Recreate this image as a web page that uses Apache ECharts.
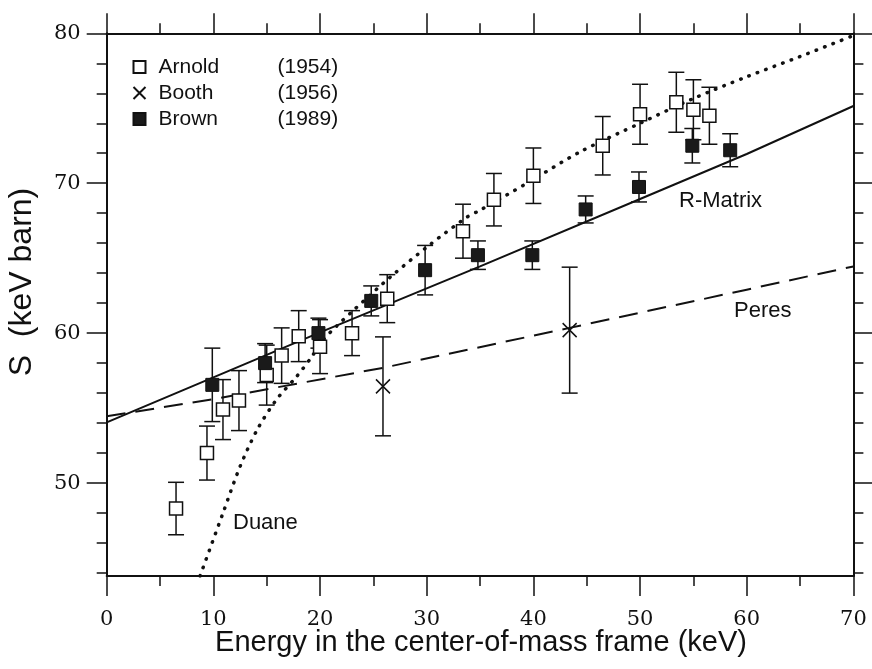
<!DOCTYPE html>
<html>
<head>
<meta charset="utf-8">
<script src="https://cdn.jsdelivr.net/npm/echarts@6/dist/echarts.min.js"></script>
<style>html,body{margin:0;padding:0;background:#fff;}#c{width:872px;height:669px;}</style>
</head>
<body>
<div id="c"></div>
<script>
// ---- data ----
const xTicks = [0, 10, 20, 30, 40, 50, 60, 70];
const yMajorTicks = [50, 60, 70, 80];
const yMinorTicks = [44, 46, 48, 50, 52, 54, 56, 58, 60, 62, 64, 66, 68, 70, 72, 74, 76, 78, 80];

const arnoldX   = [6.5, 9.4, 10.9, 12.4, 15.0, 16.4, 18.0, 20.0, 23.0, 26.3, 33.4, 36.3, 40.0, 46.5, 50.0, 53.4, 55.0, 56.5];
const arnoldY   = [48.3, 52.0, 54.9, 55.5, 57.2, 58.5, 59.8, 59.1, 60.0, 62.3, 66.8, 68.9, 70.5, 72.5, 74.6, 75.4, 74.9, 74.5];
const arnoldErr = [1.75, 1.8, 2.0, 2.0, 2.0, 1.85, 1.7, 1.8, 1.5, 1.6, 1.8, 1.75, 1.85, 1.95, 2.0, 2.0, 2.0, 1.9];

const boothX   = [25.9, 43.4];
const boothY   = [56.45, 60.2];
const boothErr = [3.3, 4.2];

const brownX   = [9.9, 14.85, 19.85, 24.8, 29.85, 34.8, 39.9, 44.9, 49.9, 54.9, 58.45];
const brownY   = [56.55, 58.0, 60.0, 62.15, 64.2, 65.2, 65.2, 68.25, 69.75, 72.5, 72.2];
const brownErr = [2.45, 1.3, 1.0, 1.0, 1.65, 0.95, 0.95, 0.9, 1.0, 1.15, 1.1];

const rMatrixX = [0, 20, 35, 50, 60, 70];
const rMatrixY = [54.05, 60.05, 64.45, 68.95, 71.95, 75.15];

const peresX = [0, 10, 26, 43.4, 60, 70];
const peresY = [54.45, 55.6, 57.7, 60.35, 62.9, 64.45];

const duaneX = [8.75, 10.9, 12.5, 14.1, 15.9, 17.8, 19.1, 20.3, 21.6, 23.1, 26.6, 30.3, 33.8, 35.0, 39.4, 44.4, 50, 55, 60, 65, 70];
const duaneY = [43.8, 48.0, 51.1, 53.55, 55.55, 57.1, 58.3, 59.55, 60.5, 61.5, 63.75, 65.9, 67.75, 68.2, 70.0, 72.1, 74.0, 75.65, 77.1, 78.45, 79.85];

const legendYears = {Arnold: '(1954)', Booth: '(1956)', Brown: '(1989)'};

// ---- chart ----
const X_MIN = 0, X_MAX = 70, Y_MIN = 43.8, Y_MAX = 80;
const INK = '#111';
const NUM_FONT = '"DejaVu Serif", serif';
const SANS = '"Liberation Sans", Arial, sans-serif';
const GRID = {left: 106.7, right: 18.6, top: 33.3, bottom: 93, containLabel: false};

const zip = (xs, ys) => xs.map((x, i) => [x, ys[i]]);
const zip3 = (xs, ys, es) => xs.map((x, i) => [x, ys[i], es[i]]);

function errorBarRender(params, api) {
  const x = api.value(0), y = api.value(1), e = api.value(2);
  const top = api.coord([x, y + e]);
  const bot = api.coord([x, y - e]);
  const hw = 8;
  const st = {stroke: INK, lineWidth: 1.5};
  return {
    type: 'group',
    children: [
      {type: 'line', shape: {x1: top[0], y1: top[1], x2: bot[0], y2: bot[1]}, style: st},
      {type: 'line', shape: {x1: top[0] - hw, y1: top[1], x2: top[0] + hw, y2: top[1]}, style: st},
      {type: 'line', shape: {x1: bot[0] - hw, y1: bot[1], x2: bot[0] + hw, y2: bot[1]}, style: st}
    ]
  };
}

function xAxisDef(pos, showLabel) {
  return {
    type: 'value', gridIndex: 0, position: pos, min: X_MIN, max: X_MAX, interval: 10,
    axisLine: {show: true, onZero: false, lineStyle: {color: INK, width: 2}},
    axisTick: {show: true, length: 20, lineStyle: {color: INK, width: 1.5}},
    minorTick: {show: true, splitNumber: 2, length: 10, lineStyle: {color: INK, width: 1.5}},
    splitLine: {show: false}, minorSplitLine: {show: false},
    axisLabel: {show: showLabel, margin: 33, color: INK, fontFamily: NUM_FONT, fontSize: 21,
      customValues: xTicks}
  };
}
function yAxisDef(gridIndex, pos, major, showLabel, showLine) {
  return {
    type: 'value', gridIndex: gridIndex, position: pos, min: Y_MIN, max: Y_MAX,
    axisLine: {show: showLine, onZero: false, lineStyle: {color: INK, width: 2}},
    axisTick: {show: true, inside: false, length: major ? 20 : 10,
      customValues: major ? yMajorTicks : yMinorTicks,
      lineStyle: {color: INK, width: 1.5}},
    minorTick: {show: false},
    splitLine: {show: false}, minorSplitLine: {show: false},
    axisLabel: {show: showLabel, margin: 26, color: INK, fontFamily: NUM_FONT, fontSize: 21,
      customValues: yMajorTicks}
  };
}

const chart = echarts.init(document.getElementById('c'), null, {renderer: 'canvas'});
chart.setOption({
  backgroundColor: '#fff',
  animation: false,
  grid: [Object.assign({}, GRID), Object.assign({}, GRID)],
  xAxis: [
    xAxisDef('bottom', true),
    xAxisDef('top', false),
    {type: 'value', gridIndex: 1, min: X_MIN, max: X_MAX, show: false}
  ],
  yAxis: [
    yAxisDef(0, 'left', false, true, true),
    yAxisDef(0, 'right', false, false, true),
    yAxisDef(1, 'left', true, false, false),
    yAxisDef(1, 'right', true, false, false)
  ],
  legend: {
    show: true, orient: 'vertical', left: 126, top: 50, itemGap: 2,
    itemWidth: 12, itemHeight: 12,
    data: ['Arnold', 'Booth', 'Brown'],
    formatter: name => '{s|}{n|' + name + '}{y|' + legendYears[name] + '}',
    textStyle: {
      color: INK, fontFamily: SANS, fontSize: 21, lineHeight: 24,
      rich: {
        s: {width: 8},
        n: {width: 119, fontFamily: SANS, fontSize: 21, color: INK},
        y: {fontFamily: SANS, fontSize: 21, color: INK}
      }
    }
  },
  series: [
    {name: 'R-Matrix', type: 'line', data: zip(rMatrixX, rMatrixY), showSymbol: false, symbol: 'none',
      lineStyle: {color: INK, width: 2}, z: 2},
    {name: 'Peres', type: 'line', data: zip(peresX, peresY), showSymbol: false, symbol: 'none',
      lineStyle: {color: INK, width: 2, type: [19, 10]}, z: 2},
    {name: 'Duane', type: 'line', data: zip(duaneX, duaneY), showSymbol: false, symbol: 'none', smooth: 0.3,
      lineStyle: {color: INK, width: 3.5, type: [0.5, 8.5], cap: 'round'}, z: 2},
    {name: 'ArnoldErr', type: 'custom', renderItem: errorBarRender, data: zip3(arnoldX, arnoldY, arnoldErr),
      encode: {x: 0, y: 1}, z: 3},
    {name: 'BoothErr', type: 'custom', renderItem: errorBarRender, data: zip3(boothX, boothY, boothErr),
      encode: {x: 0, y: 1}, z: 3},
    {name: 'BrownErr', type: 'custom', renderItem: errorBarRender, data: zip3(brownX, brownY, brownErr),
      encode: {x: 0, y: 1}, z: 3},
    {name: 'Arnold', type: 'scatter', data: zip(arnoldX, arnoldY), symbol: 'rect', symbolSize: 13,
      itemStyle: {color: '#fff', borderColor: INK, borderWidth: 1.5, opacity: 1}, z: 4},
    {name: 'Booth', type: 'scatter', data: zip(boothX, boothY), symbol: 'path://M0,0L10,10M10,0L0,10', symbolSize: 14,
      itemStyle: {color: 'none', borderColor: INK, borderWidth: 1.5, opacity: 1}, z: 4},
    {name: 'Brown', type: 'scatter', data: zip(brownX, brownY), symbol: 'rect', symbolSize: 13,
      itemStyle: {color: '#1a1a1a', borderColor: INK, borderWidth: 1, opacity: 1}, z: 5}
  ],
  graphic: [
    {type: 'text', left: 679, top: 190, z: 10,
      style: {text: 'R-Matrix', font: '22px ' + SANS, fill: INK}},
    {type: 'text', left: 734, top: 300, z: 10,
      style: {text: 'Peres', font: '22px ' + SANS, fill: INK}},
    {type: 'text', left: 233, top: 512, z: 10,
      style: {text: 'Duane', font: '22px ' + SANS, fill: INK}},
    {type: 'text', z: 10, x: 481, y: 643,
      style: {text: 'Energy in the center-of-mass frame (keV)', font: '29px ' + SANS, fill: INK,
        align: 'center', verticalAlign: 'middle'}},
    {type: 'text', z: 10, x: 22, y: 282, rotation: Math.PI / 2,
      style: {text: 'S  (keV barn)', font: '32px ' + SANS, fill: INK,
        align: 'center', verticalAlign: 'middle'}}
  ]
});
</script>
</body>
</html>
